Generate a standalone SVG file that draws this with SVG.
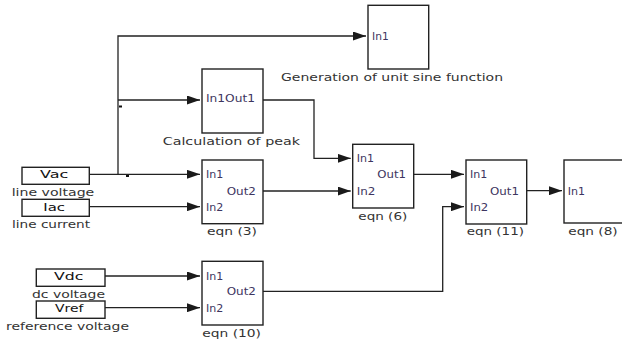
<svg xmlns="http://www.w3.org/2000/svg" width="622" height="340" viewBox="0 0 622 340">
<defs>
<marker id="arr" viewBox="0 0 13 9" refX="13" refY="4.5" markerWidth="13" markerHeight="9" markerUnits="userSpaceOnUse" orient="auto">
<path d="M0,0 L13,4.5 L0,9 Z" fill="#1a1a1a"/>
</marker>
<style>
.blk{fill:#fff;stroke:#222;stroke-width:1.4}
.src{fill:#fff;stroke:#222;stroke-width:1.4}
.w{fill:none;stroke:#222;stroke-width:1.3}
.wa{fill:none;stroke:#222;stroke-width:1.3;marker-end:url(#arr)}
text{font-family:"DejaVu Sans","Liberation Sans",sans-serif;font-size:10px}
.p{fill:#3d3560}
.l{fill:#333}
.s{fill:#111}
</style>
</defs>
<rect width="622" height="340" fill="#fff"/>
<g id="connectors">
<path class="wa" d="M89.3,174.3 H200"/>
<path class="wa" d="M118,174.3 V36 H366"/>
<path class="wa" d="M118,100 H200"/>
<path class="wa" d="M89.3,206.7 H200"/>
<path class="wa" d="M263,191 H350.7"/>
<path class="wa" d="M263,100 H314 V158.3 H350.7"/>
<path class="wa" d="M413.7,174.3 H464"/>
<path class="wa" d="M526.7,190.7 H562"/>
<path class="wa" d="M105,276 H200"/>
<path class="wa" d="M105,307.7 H200"/>
<path class="wa" d="M263,291.3 H442.7 V206.7 H464"/>
<rect x="119" y="105.5" width="3" height="2" fill="#111"/>
<rect x="126" y="175" width="3" height="2" fill="#111"/>
</g>
<g id="vac">
<rect class="src" x="22" y="167.3" width="67.3" height="17"/>
<text class="s" x="40" y="178" textLength="28.3" lengthAdjust="spacingAndGlyphs">Vac</text>
<text class="l" x="11.7" y="196" textLength="82.6" lengthAdjust="spacingAndGlyphs">line voltage</text>
</g>
<g id="iac">
<rect class="src" x="22" y="199.3" width="67.3" height="17"/>
<text class="s" x="43.3" y="210.5" textLength="21.7" lengthAdjust="spacingAndGlyphs">Iac</text>
<text class="l" x="12" y="227.5" textLength="78" lengthAdjust="spacingAndGlyphs">line current</text>
</g>
<g id="vdc">
<rect class="src" x="36.3" y="269" width="68.7" height="17.3"/>
<text class="s" x="54" y="280" textLength="29.3" lengthAdjust="spacingAndGlyphs">Vdc</text>
<text class="l" x="32" y="297.5" textLength="73" lengthAdjust="spacingAndGlyphs">dc voltage</text>
</g>
<g id="vref">
<rect class="src" x="36.3" y="301" width="68.7" height="17.3"/>
<text class="s" x="55" y="311.5" textLength="28.3" lengthAdjust="spacingAndGlyphs">Vref</text>
<text class="l" x="6" y="329.5" textLength="123" lengthAdjust="spacingAndGlyphs">reference voltage</text>
</g>
<g id="gen">
<rect class="blk" x="368" y="5.3" width="60.7" height="63.7"/>
<text class="p" x="372" y="39.5" textLength="16.7" lengthAdjust="spacingAndGlyphs">In1</text>
<text class="l" x="281" y="80.5" textLength="222" lengthAdjust="spacingAndGlyphs">Generation of unit sine function</text>
</g>
<g id="peak">
<rect class="blk" x="202" y="69" width="61" height="64"/>
<text class="p" x="206" y="102" textLength="49" lengthAdjust="spacingAndGlyphs">In1Out1</text>
<text class="l" x="162.7" y="144.5" textLength="137.3" lengthAdjust="spacingAndGlyphs">Calculation of peak</text>
</g>
<g id="eqn3">
<rect class="blk" x="202" y="160" width="61" height="63.7"/>
<text class="p" x="206" y="178" textLength="17.3" lengthAdjust="spacingAndGlyphs">In1</text>
<text class="p" x="206" y="210.5" textLength="17.3" lengthAdjust="spacingAndGlyphs">In2</text>
<text class="p" x="226.7" y="194.5" textLength="29.3" lengthAdjust="spacingAndGlyphs">Out2</text>
<text class="l" x="207" y="235" textLength="50" lengthAdjust="spacingAndGlyphs">eqn (3)</text>
</g>
<g id="eqn10">
<rect class="blk" x="202" y="261.3" width="61" height="63.7"/>
<text class="p" x="206" y="280" textLength="17.3" lengthAdjust="spacingAndGlyphs">In1</text>
<text class="p" x="206" y="311.5" textLength="17.3" lengthAdjust="spacingAndGlyphs">In2</text>
<text class="p" x="226.7" y="295" textLength="29.3" lengthAdjust="spacingAndGlyphs">Out2</text>
<text class="l" x="202.3" y="336.5" textLength="58.7" lengthAdjust="spacingAndGlyphs">eqn (10)</text>
</g>
<g id="eqn6">
<rect class="blk" x="352.7" y="144.3" width="61" height="63.7"/>
<text class="p" x="356.7" y="162" textLength="17.3" lengthAdjust="spacingAndGlyphs">In1</text>
<text class="p" x="356.7" y="194.5" textLength="18.7" lengthAdjust="spacingAndGlyphs">In2</text>
<text class="p" x="377.3" y="178" textLength="28.7" lengthAdjust="spacingAndGlyphs">Out1</text>
<text class="l" x="358.3" y="219.5" textLength="49" lengthAdjust="spacingAndGlyphs">eqn (6)</text>
</g>
<g id="eqn11">
<rect class="blk" x="466" y="160" width="60.7" height="64"/>
<text class="p" x="470" y="178" textLength="17.3" lengthAdjust="spacingAndGlyphs">In1</text>
<text class="p" x="470" y="210.5" textLength="18.3" lengthAdjust="spacingAndGlyphs">In2</text>
<text class="p" x="490" y="194.5" textLength="29" lengthAdjust="spacingAndGlyphs">Out1</text>
<text class="l" x="466.7" y="235" textLength="57.3" lengthAdjust="spacingAndGlyphs">eqn (11)</text>
</g>
<g id="eqn8">
<rect class="blk" x="564" y="160" width="70" height="63"/>
<text class="p" x="567.7" y="194.5" textLength="17.3" lengthAdjust="spacingAndGlyphs">In1</text>
<text class="l" x="568.3" y="235" textLength="49.4" lengthAdjust="spacingAndGlyphs">eqn (8)</text>
</g>
</svg>
